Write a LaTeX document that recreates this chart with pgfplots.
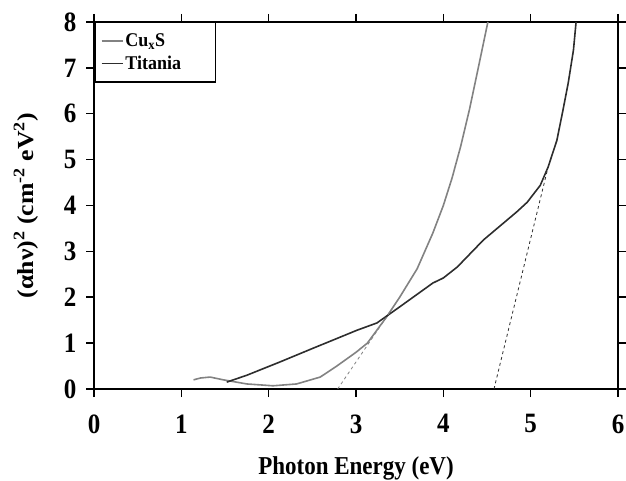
\documentclass[border=0pt]{standalone}
\usepackage{pgfplots}
\pgfplotsset{compat=1.18}
\usepackage{fontspec}
\setmainfont{Liberation Serif}
\definecolor{cugray}{RGB}{130,130,130}
\definecolor{tidark}{RGB}{45,45,45}
\begin{document}
\begin{tikzpicture}
\useasboundingbox (0,0) rectangle (626bp,481bp);
\begin{axis}[
  at={(94bp,92bp)}, anchor=south west,
  scale only axis, width=524bp, height=367bp,
  xmin=0, xmax=6, ymin=0, ymax=8,
  xtick={0,1,2,3,4,5,6}, ytick={0,1,2,3,4,5,6,7,8},
  tick align=outside, major tick length=8bp,
  tick style={line width=1.5bp, black},
  axis line style={line width=1.5bp},
  /pgf/number format/assume math mode=true,
  ticklabel style={font=\fontsize{25bp}{27bp}\selectfont\bfseries},
  xticklabel={\scalebox{1}[1.12]{\pgfmathprintnumber{\tick}}},
  yticklabel={\scalebox{1}[1.12]{\pgfmathprintnumber{\tick}}},
  xticklabel style={yshift=-14bp},
  yticklabel style={xshift=-6bp},
  xlabel={\scalebox{1}[1.12]{Photon Energy (eV)}},
  ylabel={\scalebox{1.12}[1]{(αhν)\textsuperscript{2} (cm\textsuperscript{-2} eV\textsuperscript{2})}},
  label style={font=\fontsize{23bp}{25bp}\selectfont\bfseries},
  xlabel style={at={(axis description cs:0.5,-0.217)}, anchor=center},
  ylabel style={at={(axis description cs:-0.13,0.5)}, anchor=center},
  legend style={at={(0,1)}, anchor=north west, draw=black, line width=1.5bp,
    font=\fontsize{18bp}{20bp}\selectfont\bfseries, inner xsep=6bp, inner ysep=9bp,
    row sep=4bp, cells={anchor=west}},
  legend cell align=left,
  legend image code/.code={\draw[#1] (0bp,0bp) -- (21bp,0bp);},
  clip=true,
]
\addplot[cugray, line width=1.6bp] coordinates {
(1.14,0.20) (1.22,0.24) (1.33,0.26) (1.48,0.20) (1.75,0.11) (2.05,0.07)
(2.32,0.11) (2.59,0.26) (2.78,0.50) (3.00,0.80) (3.13,1.00) (3.35,1.57)
(3.50,2.00) (3.70,2.62) (3.88,3.40) (4.00,4.00) (4.10,4.60) (4.20,5.30)
(4.30,6.10) (4.40,7.00) (4.51,8.00)
};
\addlegendentry{\makebox[82bp][l]{\scalebox{1}[1.08]{Cu\textsubscript{x}S}}}
\addplot[tidark, line width=1.6bp] coordinates {
(1.52,0.15) (1.75,0.30) (2.13,0.59) (2.51,0.89) (2.78,1.10) (3.01,1.28)
(3.24,1.44) (3.50,1.79) (3.88,2.31) (4.00,2.42) (4.16,2.66) (4.46,3.25)
(4.84,3.86) (4.96,4.07) (5.11,4.44) (5.20,4.84) (5.30,5.42) (5.37,6.08)
(5.43,6.67) (5.49,7.39) (5.52,8.00)
};
\addlegendentry{\makebox[82bp][l]{\scalebox{1}[1.08]{Titania}}}
\addplot[cugray, dashed, line width=0.8bp, forget plot] coordinates {(2.79,0) (3.45,1.85)};
\addplot[tidark, dashed, line width=0.8bp, forget plot] coordinates {(4.58,0) (5.20,4.84)};
\end{axis}
\end{tikzpicture}
\end{document}
